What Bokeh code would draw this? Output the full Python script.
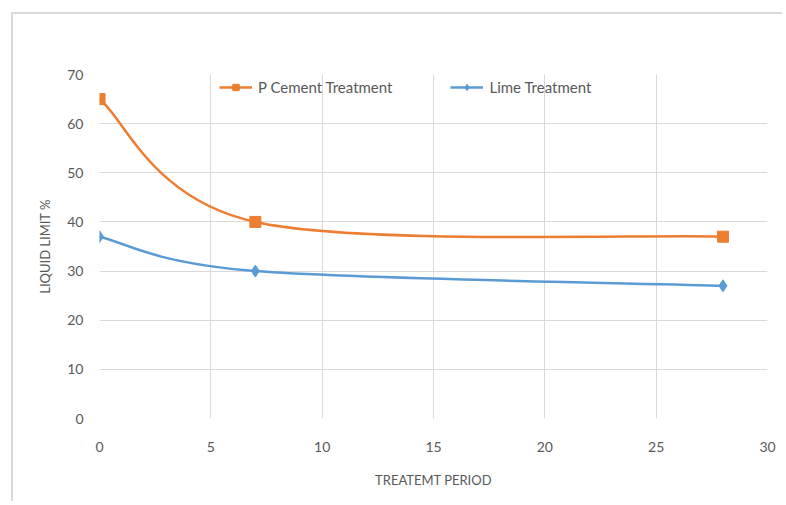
from bokeh.plotting import figure
from bokeh.models import Legend, LegendItem, FixedTicker, Range1d
from bokeh.embed import file_html
from bokeh.resources import INLINE

# ---- data ----
periods = [0, 7, 28]
cement = [65, 40, 37]
lime = [37, 30, 27]
x_ticks = [0, 5, 10, 15, 20, 25, 30]
y_ticks = [0, 10, 20, 30, 40, 50, 60, 70]
series_names = ["P Cement Treatment", "Lime Treatment"]
x_title = "TREATEMT PERIOD"
y_title = "LIQUID LIMIT %"

ORANGE = "#ED7D31"
BLUE = "#5B9BD5"
GRID = "#D9D9D9"
TXT = "#595959"
FONT = "Lato"


def smooth_segments(xs, ys):
    """Bezier control points for a smoothed (Excel-like) line through the points."""
    n = len(xs)
    out = {k: [] for k in ("x0", "y0", "x1", "y1", "cx0", "cy0", "cx1", "cy1")}
    for i in range(n - 1):
        xp, yp = (xs[i - 1], ys[i - 1]) if i > 0 else (xs[i], ys[i])
        xn, yn = (xs[i + 2], ys[i + 2]) if i + 2 < n else (xs[i + 1], ys[i + 1])
        out["x0"].append(xs[i]); out["y0"].append(ys[i])
        out["x1"].append(xs[i + 1]); out["y1"].append(ys[i + 1])
        out["cx0"].append(xs[i] + (xs[i + 1] - xp) / 6)
        out["cy0"].append(ys[i] + (ys[i + 1] - yp) / 6)
        out["cx1"].append(xs[i + 1] - (xn - xs[i]) / 6)
        out["cy1"].append(ys[i + 1] - (yn - ys[i]) / 6)
    return out


p = figure(width=771, height=489, output_backend="svg", toolbar_location=None,
           x_range=Range1d(0, 30), y_range=Range1d(0, 70),
           min_border_left=86, min_border_right=17, min_border_top=60,
           min_border_bottom=85)
p.outline_line_color = None
p.margin = (12, 0, 0, 11)
p.styles = {"border-top": "2px solid #D9D9D9", "border-left": "2px solid #D9D9D9"}

# grid
p.xgrid.ticker = FixedTicker(ticks=x_ticks)
p.ygrid.ticker = FixedTicker(ticks=y_ticks)
for g in (p.xgrid, p.ygrid):
    g.grid_line_color = GRID
    g.grid_line_width = 1

# axes
for ax in (p.xaxis, p.yaxis):
    ax.axis_line_color = None
    ax.major_tick_line_color = None
    ax.minor_tick_line_color = None
    ax.major_label_text_color = TXT
    ax.major_label_text_font = FONT
    ax.major_label_text_font_size = "14px"
    ax.axis_label_text_color = TXT
    ax.axis_label_text_font = FONT
    ax.axis_label_text_font_size = "13px"
    ax.axis_label_text_font_style = "normal"
p.xaxis.ticker = FixedTicker(ticks=x_ticks)
p.yaxis.ticker = FixedTicker(ticks=y_ticks)
p.xaxis.major_label_standoff = 17
p.yaxis.major_label_standoff = 10
p.xaxis.axis_label = x_title
p.yaxis.axis_label = y_title
p.xaxis.axis_label_standoff = 17
p.yaxis.axis_label_standoff = 11

# curves
for ys, color, marker, size in ((cement, ORANGE, "square", 11), (lime, BLUE, "diamond", 12)):
    seg = smooth_segments(periods, ys)
    p.bezier(x0="x0", y0="y0", x1="x1", y1="y1", cx0="cx0", cy0="cy0",
             cx1="cx1", cy1="cy1", source=seg, line_color=color, line_width=2.5)
    p.scatter(periods, ys, marker=marker, size=size, fill_color=color, line_color=color)

# legend proxies (not drawn in the plot area)
nan = float("nan")
items = []
for name, color, marker, size in ((series_names[0], ORANGE, "square", 9),
                                  (series_names[1], BLUE, "diamond", 9)):
    lr = p.line(x=[nan, nan], y=[nan, nan], line_color=color, line_width=2.5)
    sr = p.scatter(x=[nan], y=[nan], marker=marker, size=size, fill_color=color, line_color=color)
    items.append(LegendItem(label=name, renderers=[lr, sr]))

legend = Legend(items=items, orientation="horizontal", location=(120, 322),
                padding=0, margin=0, spacing=58, glyph_width=33, glyph_height=16,
                label_standoff=6, border_line_color=None, background_fill_alpha=0,
                label_text_font=FONT, label_text_font_size="15px",
                label_text_color=TXT)
p.add_layout(legend, "center")

open("out.html", "w").write(file_html(p, INLINE))
